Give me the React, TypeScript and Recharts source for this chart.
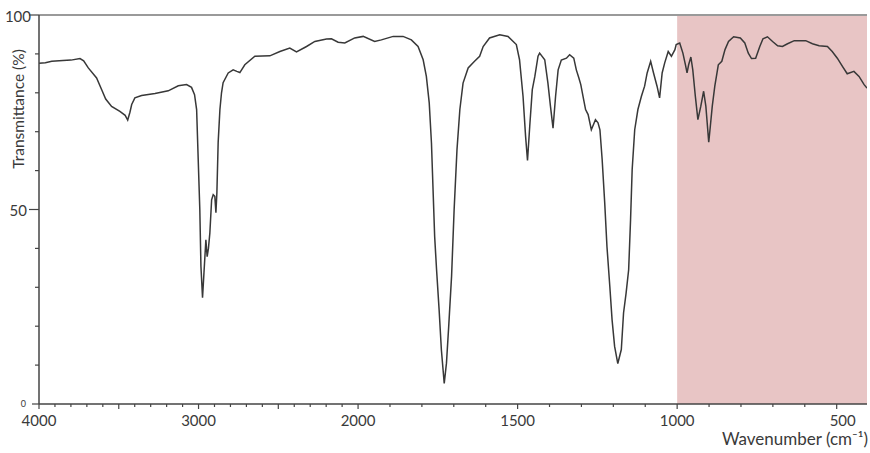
import React from 'react';
import { LineChart, Line, XAxis, YAxis, ReferenceArea, ReferenceLine } from 'recharts';

const wavenumbers = [
  4000, 3960, 3920, 3850, 3800, 3743, 3720, 3691, 3639, 3607, 3582, 3545, 3493, 3460, 3444, 3430, 3419, 3399,
  3357, 3273, 3190, 3127, 3075, 3044, 3025, 3012, 3002, 2992, 2985, 2975, 2966, 2954, 2946, 2938, 2929, 2918,
  2908, 2898, 2891, 2885, 2877, 2866, 2856, 2846, 2814, 2783, 2760, 2741, 2710, 2647, 2553, 2490, 2428, 2386,
  2323, 2271, 2198, 2167, 2125, 2083, 2021, 1984, 1948, 1927, 1890, 1859, 1833, 1812, 1796, 1786, 1777, 1770,
  1765, 1760, 1754, 1746, 1739, 1730, 1723, 1716, 1707, 1699, 1690, 1681, 1671, 1655, 1635, 1619, 1608, 1588,
  1556, 1530, 1504, 1494, 1483, 1475, 1469, 1462, 1454, 1446, 1436, 1431, 1415, 1405, 1397, 1389, 1381, 1373,
  1363, 1347, 1337, 1324, 1316, 1308, 1302, 1295, 1287, 1279, 1269, 1256, 1248, 1242, 1235, 1227, 1220, 1211,
  1204, 1196, 1186, 1175, 1168, 1160, 1152, 1146, 1141, 1133, 1123, 1112, 1102, 1094, 1083, 1074, 1063, 1055,
  1047, 1039, 1028, 1018, 1007, 1003, 992, 982, 974, 969, 964, 957, 951, 943, 935, 926, 917, 910, 905, 901, 896,
  890, 882, 871, 860, 850, 839, 823, 802, 788, 777, 767, 754, 741, 731, 717, 701, 685, 670, 654, 633, 597, 576,
  555, 529, 514, 498, 482, 467, 446, 430, 414, 405,
];

// transmittance (%)
const transmittance = [
  87.6, 87.7, 88.1, 88.3, 88.4, 88.8, 88.2, 86.4, 83.8, 80.8, 78.4, 76.5, 75.2, 74.2, 73.0, 75.0, 77.0, 78.7,
  79.3, 79.8, 80.5, 81.8, 82.1, 81.4, 79.5, 75.7, 62.8, 50.0, 35.4, 27.3, 33.7, 42.2, 37.9, 40.0, 44.0, 52.5,
  53.8, 53.4, 49.2, 54.3, 67.2, 75.7, 80.0, 82.6, 85.1, 85.9, 85.5, 85.2, 87.2, 89.4, 89.5, 90.6, 91.5, 90.5,
  91.9, 93.2, 93.8, 93.9, 93.0, 92.8, 94.1, 94.5, 93.2, 93.6, 94.5, 94.5, 93.6, 91.9, 88.5, 84.2, 77.4, 67.1,
  55.1, 43.1, 34.5, 24.2, 14.0, 5.3, 10.5, 19.9, 32.8, 49.9, 65.4, 75.7, 82.5, 86.4, 88.1, 89.4, 91.9, 94.1,
  94.9, 94.5, 92.4, 88.5, 79.1, 68.8, 62.6, 71.4, 80.8, 84.2, 89.4, 90.2, 88.5, 82.5, 76.5, 70.9, 79.1, 85.9,
  88.4, 88.9, 89.8, 88.9, 85.9, 83.8, 82.1, 79.1, 75.7, 74.4, 70.5, 73.1, 72.3, 70.5, 62.8, 51.7, 40.5, 30.2,
  21.7, 14.8, 10.4, 14.0, 23.4, 28.5, 34.5, 47.4, 60.2, 70.5, 75.7, 79.1, 81.7, 85.1, 88.1, 85.1, 81.7, 78.7,
  85.1, 87.7, 90.6, 89.4, 91.1, 92.4, 92.8, 90.2, 87.2, 85.1, 87.2, 89.2, 85.9, 79.1, 73.1, 76.5, 80.4, 76.5, 71.4, 67.3, 71.4,
  76.5, 81.7, 87.2, 88.1, 91.1, 93.2, 94.4, 94.1, 92.8, 90.2, 88.8, 88.9, 91.9, 93.9, 94.4, 93.2, 92.1, 91.9, 92.6, 93.4, 93.4, 92.6,
  92.1, 91.9, 90.6, 88.9, 86.8, 84.9, 85.5, 84.2, 82.1, 81.2,
];

const labelledWavenumbers = [4000, 3000, 2000, 1500, 1000, 500];
const yTicks = [0, 10, 20, 30, 40, 50, 60, 70, 80, 90, 100];
const yLabelled = [0, 50, 100];
const fingerprintStart = 1000;
const spectrumEnd = 405;

// the axis is stretched 2x below 2000 cm-1, as usual for IR spectra
const toPos = (w: number) => (w >= 2000 ? (4000 - w) / 2 : 1000 + (2000 - w));
const toWave = (p: number) => (p <= 1000 ? 4000 - 2 * p : 2000 - (p - 1000));

const data = wavenumbers.map((w, i) => ({ pos: toPos(w), t: transmittance[i] }));

const xTickPositions: number[] = [];
for (let w = 4000; w >= 500; w -= 100) xTickPositions.push(toPos(w));

const FONT = 'Lato, "Open Sans", sans-serif';
const TEXT = '#3a3a3a';

const XTick = ({ x, y, payload }: any) => {
  const w = Math.round(toWave(payload.value));
  const labelled = labelledWavenumbers.includes(w);
  const len = labelled || w % 500 === 0 ? 5 : 3;
  return (
    <g>
      <line x1={x} x2={x} y1={y} y2={y + len} stroke="#444" strokeWidth={1.2} />
      {labelled && (
        <text x={x + (w === 500 ? 6 : 0)} y={y + 22} textAnchor="middle" fontSize={15} fontFamily={FONT} fill={TEXT}>
          {w}
        </text>
      )}
    </g>
  );
};

const YTick = ({ x, y, payload }: any) => {
  const v = payload.value;
  const labelled = yLabelled.includes(v);
  if (v === 0) {
    return (
      <g>
        <line x1={x - 7} x2={x} y1={y} y2={y} stroke="#444" strokeWidth={1.2} />
        <text x={x - 13} y={y + 3} textAnchor="end" fontSize={9} fontFamily={FONT} fill={TEXT}>0</text>
      </g>
    );
  }
  return (
    <g>
      <line x1={x - (labelled ? 10 : 4)} x2={x} y1={y} y2={y} stroke="#444" strokeWidth={1.2} />
      {labelled && (
        <text x={v === 100 ? x - 8 : x - 12} y={y + 6.5} textAnchor="end" fontSize={15} fontFamily={FONT} fill={TEXT}>
          {v}
        </text>
      )}
    </g>
  );
};

const YTitle = () => {
  const cx = 17.5;
  const cy = 109;
  return (
    <text x={cx} y={cy} transform={`rotate(-90, ${cx}, ${cy})`} textAnchor="middle" dominantBaseline="central"
      fontSize={15.5} fontFamily={FONT} fill={TEXT}>
      Transmittance (%)
    </text>
  );
};

const XTitle = ({ viewBox }: any) => (
  <text x={viewBox.x + viewBox.width + 1} y={viewBox.y + 41} textAnchor="end" fontSize={17} fontFamily={FONT} fill={TEXT}>
    Wavenumber (cm⁻¹)
  </text>
);

export default function App() {
  return (
    <div style={{ position: 'absolute', left: 0, top: 0, width: 870, height: 453, background: '#fff' }}>
      <LineChart width={870} height={453} data={data} margin={{ top: 15, right: 3, left: 0, bottom: 18 }}>
        <ReferenceArea x1={toPos(fingerprintStart)} x2={toPos(spectrumEnd)} y1={0} y2={100}
          fill="#e8c5c5" fillOpacity={1} stroke="none" />
        <ReferenceLine y={100} stroke="#9a9a9a" strokeWidth={2} />
        <XAxis dataKey="pos" type="number" domain={[0, toPos(spectrumEnd)]} ticks={xTickPositions} interval={0}
          height={31} tickSize={0} tickMargin={0} tickLine={false} tick={<XTick />}
          axisLine={{ stroke: '#444', strokeWidth: 1.5 }} allowDataOverflow label={<XTitle />} />
        <YAxis type="number" domain={[0, 100]} ticks={yTicks} interval={0} width={39} tickSize={0} tickMargin={0}
          tickLine={false} tick={<YTick />} axisLine={{ stroke: '#444', strokeWidth: 1.5 }} label={<YTitle />} />
        <Line type="linear" dataKey="t" stroke="#383838" strokeWidth={1.5} dot={false} isAnimationActive={false} />
      </LineChart>
    </div>
  );
}
